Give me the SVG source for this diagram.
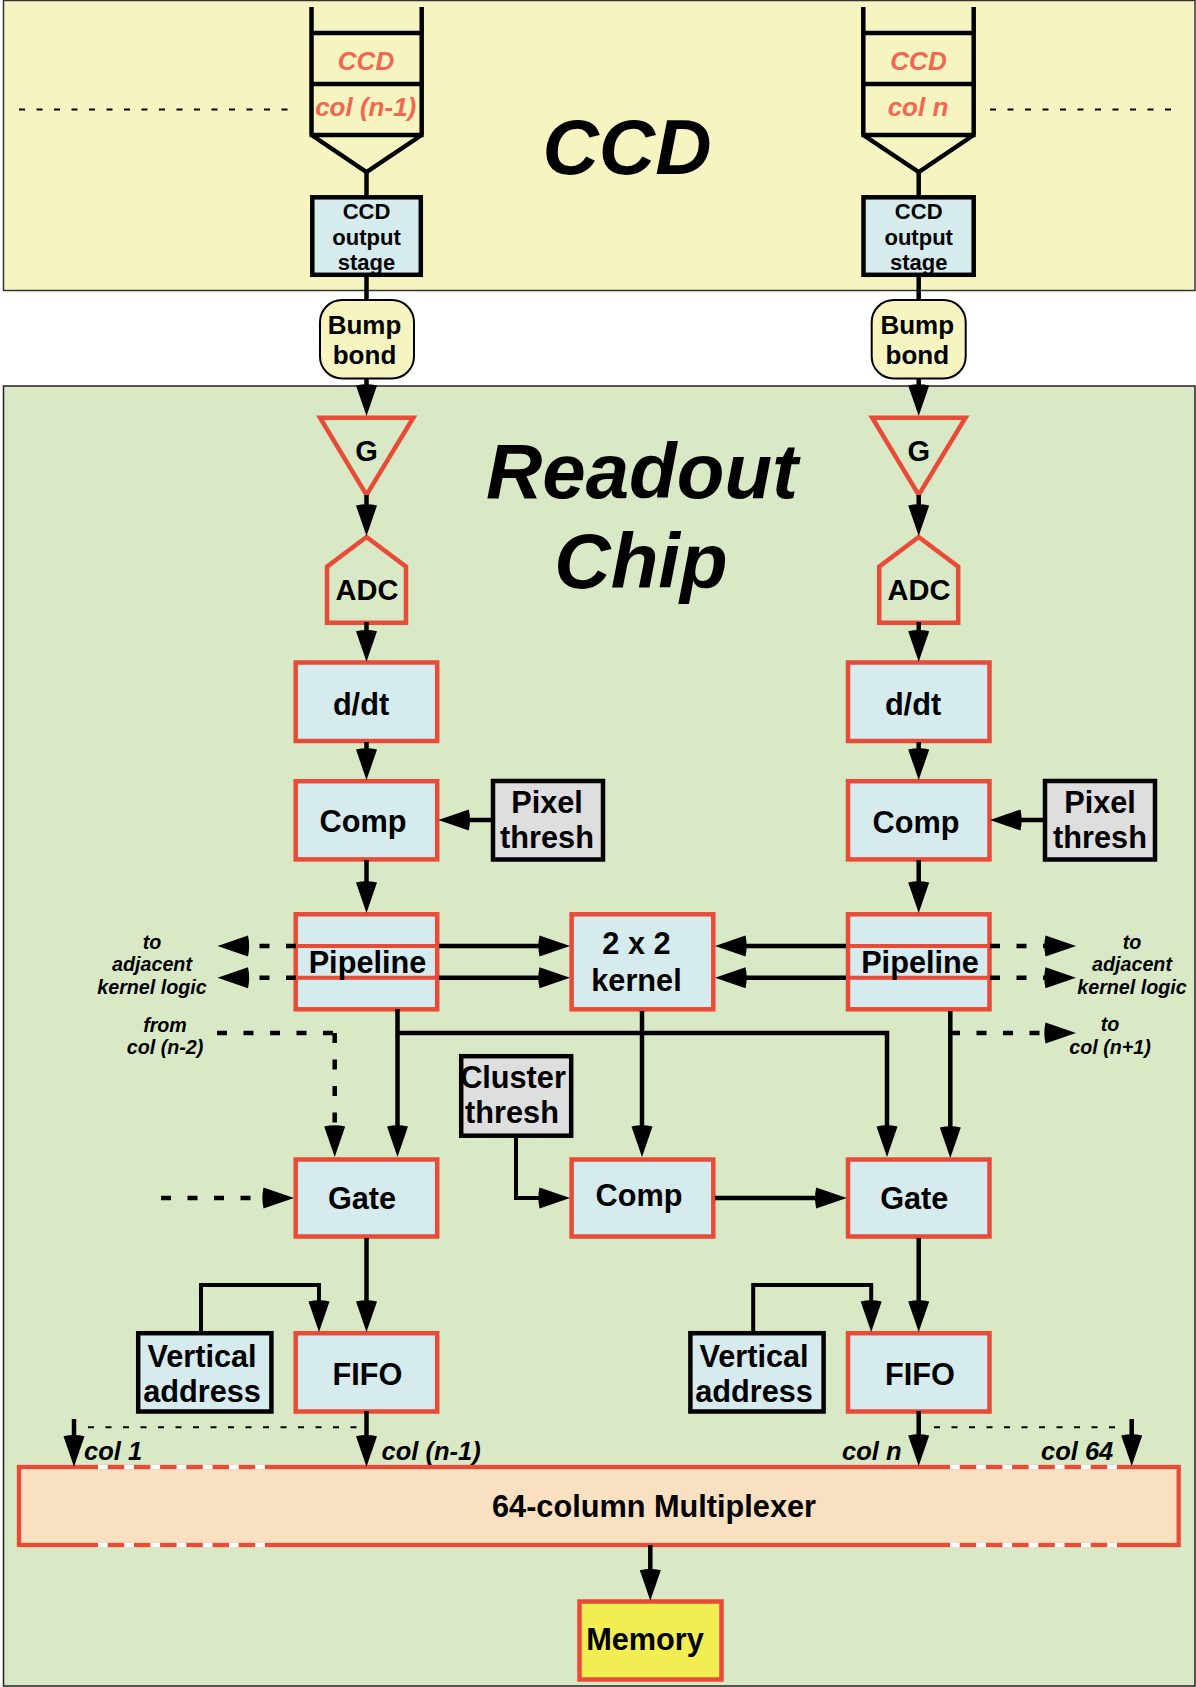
<svg xmlns="http://www.w3.org/2000/svg" width="1196" height="1687" viewBox="0 0 1196 1687">
<style>
text{font-family:"Liberation Sans",Arial,sans-serif;font-weight:700;fill:#000;text-anchor:middle}
.f30{font-size:30.7px}.f29{font-size:29px}.f26{font-size:26px}.f22{font-size:22px}
.title{font-size:78px;font-style:italic}
.lab{font-size:19.7px;font-style:italic}
.col{font-size:25.5px;font-style:italic;text-anchor:start}
.ccdt{font-size:26px;font-style:italic;fill:#f2674f}
.red{fill:#d6ebee;stroke:#e84b37;stroke-width:4.5}
.blk{fill:#d6ebee;stroke:#000;stroke-width:4.5}
.gry{fill:#dedede;stroke:#000;stroke-width:4.5}
.shp{fill:none;stroke:#e84b37;stroke-width:4.5}
.rl{stroke:#e84b37;stroke-width:4;fill:none}
.wd{stroke:#fff;stroke-width:4.3;fill:none;stroke-dasharray:9.7 16.5}
.pipe{fill:none;stroke:#000;stroke-width:4.5}
.bump{fill:#f6f4c0;stroke:#000;stroke-width:2}
.c{fill:none;stroke:#000;stroke-width:4.5;marker-end:url(#a)}
.n{fill:none;stroke:#000;stroke-width:4.5}
.d{fill:none;stroke:#000;stroke-width:4.5;stroke-dasharray:10 16.5}
.dm{marker-end:url(#a)}
.t{fill:none;stroke:#000;stroke-width:2;stroke-dasharray:6 11.5}
</style>
<defs>
<marker id="a" markerUnits="userSpaceOnUse" markerWidth="34" markerHeight="22" viewBox="-1 0 34 22" refX="7" refY="11" orient="auto" overflow="visible">
<path d="M32 11 L1.5 .5 Q-.8 11 1.5 21.5 Z" fill="#000"/>
</marker>
</defs>
<g id="panels">
<rect id="ccd-panel" x="3.5" y="0.5" width="1191.5" height="290" fill="#f6f4c0" stroke="#333" stroke-width="1.5"/>
<rect id="readout-panel" x="3.5" y="386" width="1191.5" height="1300" fill="#d9e9c5" stroke="#222" stroke-width="1.5"/>
<text class="title" x="627" y="174">CCD</text>
<text class="title" x="642" y="498">Readout</text>
<text class="title" x="641" y="588">Chip</text>
</g>
<g id="ccd-col-left">
<path class="pipe" d="M311.5 7V135M421.7 7V135M311.5 33H421.7M311.5 84H421.7M309.5 135H423.7M311.5 135L366.5 172L421.7 135"/>
<text class="ccdt" x="366" y="70">CCD</text><text class="ccdt" x="365.7" y="116">col (n-1)</text>
</g>
<g id="ccd-col-right">
<path class="pipe" d="M863.3 7V135M973.7 7V135M863.3 33H973.7M863.3 84H973.7M861.3 135H975.7M863.3 135L918.7 172L973.7 135"/>
<text class="ccdt" x="918.5" y="70">CCD</text><text class="ccdt" x="918" y="116">col n</text>
</g>
<g id="output-left"><rect class="blk" x="312.3" y="197.3" width="108.5" height="77.5"/>
<text class="f22" x="366.5" y="218.5">CCD</text><text class="f22" x="366.5" y="244.5">output</text><text class="f22" x="366.5" y="269.5">stage</text></g>
<g id="output-right"><rect class="blk" x="863.5" y="197.3" width="110.2" height="77.5"/>
<text class="f22" x="918.7" y="218.5">CCD</text><text class="f22" x="918.7" y="244.5">output</text><text class="f22" x="918.7" y="269.5">stage</text></g>
<g id="bump-left"><rect class="bump" x="320" y="300" width="94" height="78.5" rx="22"/>
<text class="f26" x="364.5" y="334">Bump</text><text class="f26" x="364.5" y="364">bond</text></g>
<g id="bump-right"><rect class="bump" x="871.7" y="300" width="94" height="78.5" rx="22"/>
<text class="f26" x="917.3" y="334">Bump</text><text class="f26" x="917.3" y="364">bond</text></g>
<g id="gain-left"><path class="shp" d="M320 417.7H413.3L366.5 495Z"/><text class="f29" x="366.5" y="461">G</text></g>
<g id="gain-right"><path class="shp" d="M872.2 417.7H965.5L918.7 495Z"/><text class="f29" x="918.7" y="461">G</text></g>
<g id="adc-left"><path class="shp" d="M366.5 537L327 566.7V622.7H406V566.7Z"/><text class="f29" x="367" y="600">ADC</text></g>
<g id="adc-right"><path class="shp" d="M918.7 537L879.2 566.7V622.7H958.2V566.7Z"/><text class="f29" x="919" y="600">ADC</text></g>
<g id="ddt-left"><rect class="red" x="295.7" y="662.5" width="141.5" height="78.5"/><text class="f30" x="361" y="715">d/dt</text></g>
<g id="ddt-right"><rect class="red" x="848" y="662.5" width="141.5" height="78.5"/><text class="f30" x="913" y="715">d/dt</text></g>
<g id="comp-left"><rect class="red" x="295.7" y="781.2" width="141.5" height="78.2"/><text class="f30" x="363" y="832">Comp</text></g>
<g id="comp-right"><rect class="red" x="848" y="781.2" width="141.5" height="78.2"/><text class="f30" x="916" y="832.5">Comp</text></g>
<g id="pixel-left"><rect class="gry" x="493" y="781" width="110" height="78.5"/><text class="f30" x="547" y="813">Pixel</text><text class="f30" x="547" y="847.5">thresh</text></g>
<g id="pixel-right"><rect class="gry" x="1045" y="781" width="110" height="78.5"/><text class="f30" x="1100" y="813">Pixel</text><text class="f30" x="1100" y="847.5">thresh</text></g>
<g id="pipeline-left"><rect class="red" x="295.7" y="914.3" width="141.5" height="95"/><path class="rl" d="M296 946H437M296 977.7H437"/><text class="f30" x="367.5" y="973">Pipeline</text></g>
<g id="pipeline-right"><rect class="red" x="848" y="914.3" width="141.5" height="95"/><path class="rl" d="M848 946H989M848 977.7H989"/><text class="f30" x="920" y="973">Pipeline</text></g>
<g id="kernel"><rect class="red" x="571.6" y="914.3" width="141.7" height="95"/><text class="f30" x="636.5" y="954">2 x 2</text><text class="f30" x="636.5" y="991">kernel</text></g>
<g id="cluster"><rect class="gry" x="461.2" y="1056.2" width="110" height="79.5"/><text class="f30" x="513" y="1088">Cluster</text><text class="f30" x="512" y="1123">thresh</text></g>
<g id="gate-left"><rect class="red" x="295.7" y="1159.5" width="141.5" height="77"/><text class="f30" x="362" y="1209">Gate</text></g>
<g id="comp-mid"><rect class="red" x="571.6" y="1159.5" width="141.7" height="77"/><text class="f30" x="639" y="1206">Comp</text></g>
<g id="gate-right"><rect class="red" x="848" y="1159.5" width="141.5" height="77"/><text class="f30" x="914.3" y="1209">Gate</text></g>
<g id="vaddr-left"><rect class="blk" x="138.2" y="1333.2" width="133.2" height="78.3"/><text class="f30" x="202" y="1367">Vertical</text><text class="f30" x="202" y="1402">address</text></g>
<g id="vaddr-right"><rect class="blk" x="690.4" y="1333.2" width="133.2" height="78.3"/><text class="f30" x="754" y="1367">Vertical</text><text class="f30" x="754" y="1402">address</text></g>
<g id="fifo-left"><rect class="red" x="295.7" y="1333.2" width="141.5" height="78.3"/><text class="f30" x="367.4" y="1384.5">FIFO</text></g>
<g id="fifo-right"><rect class="red" x="848" y="1333.2" width="141.5" height="78.3"/><text class="f30" x="920" y="1384.5">FIFO</text></g>
<g id="mux"><rect x="19" y="1467" width="1159.7" height="78" fill="#f8e0c0" stroke="#e84b37" stroke-width="4.3"/>
<path class="wd" d="M98 1467H266M98 1545H266M950 1467H1118M950 1545H1118"/>
<text class="f30" x="654" y="1516.7">64-column Multiplexer</text></g>
<g id="memory"><rect x="579.5" y="1601.5" width="142" height="78" fill="#f2ee52" stroke="#e84b37" stroke-width="4.5"/><text class="f30" x="645" y="1649.5">Memory</text></g>
<g id="labels">
<text class="lab" x="152" y="949">to</text><text class="lab" x="152" y="971">adjacent</text><text class="lab" x="152" y="994">kernel logic</text>
<text class="lab" x="165" y="1032">from</text><text class="lab" x="165" y="1054">col (n-2)</text>
<text class="lab" x="1132" y="949">to</text><text class="lab" x="1132" y="971">adjacent</text><text class="lab" x="1132" y="994">kernel logic</text>
<text class="lab" x="1110" y="1031">to</text><text class="lab" x="1110" y="1054">col (n+1)</text>
<text class="col" x="84" y="1460">col 1</text><text class="col" x="381.5" y="1460">col (n-1)</text><text class="col" x="842" y="1460">col n</text><text class="col" x="1041" y="1460">col 64</text>
</g>
<g id="connectors">
<path class="n" d="M366.5 172V197M366.5 275V300M918.7 172V197M918.7 275V300"/>
<path class="c" d="M366.5 379V391"/><path class="c" d="M918.7 379V391"/>
<path class="c" d="M366.5 495V511"/><path class="c" d="M918.7 495V511"/>
<path class="c" d="M366.5 622V636.7"/><path class="c" d="M918.7 622V636.7"/>
<path class="c" d="M366.5 742V755"/><path class="c" d="M918.7 742V755"/>
<path class="c" d="M366.5 860V888"/><path class="c" d="M918.7 860V888"/>
<path class="c" d="M491 820H463.3"/><path class="c" d="M1043 820H1015"/>
<path class="c" d="M439 946H545"/><path class="c" d="M439 977.7H545"/>
<path class="c" d="M846 946H740"/><path class="c" d="M846 977.7H740"/>
<path class="d dm" d="M296 946H242.5"/><path class="d dm" d="M296 977.7H242.5"/>
<path class="d dm" d="M990 946H1051"/><path class="d dm" d="M990 977.7H1051"/>
<path class="d dm" d="M950 1033H1051"/>
<path class="c" d="M397.5 1009V1132"/>
<path class="c" d="M397.5 1033H887V1132"/>
<path class="c" d="M950.3 1011V1133"/>
<path class="c" d="M642 1011V1132"/>
<path class="d" d="M217 1033H335"/>
<path class="d dm" d="M334.7 1033V1132"/>
<path class="d dm" d="M161 1198H269"/>
<path class="c" style="stroke-width:4" d="M516 1138V1198H545"/>
<path class="c" d="M715 1198H821.7"/>
<path class="c" d="M366.5 1238V1307"/><path class="c" d="M918.7 1238V1307"/>
<path class="c" style="stroke-width:4" d="M201 1331V1285H319V1307"/>
<path class="c" style="stroke-width:4" d="M753.2 1331V1285H871.2V1307"/>
<path class="c" d="M366.5 1411V1441.7"/><path class="c" d="M918.7 1411V1441"/>
<path class="c" d="M74 1419V1441.7"/><path class="c" d="M1131.7 1419V1441"/>
<path class="t" d="M88 1427.3H358"/><path class="t" d="M934 1427.3H1116"/>
<path class="c" d="M650.3 1545V1575.7"/>
<path class="t" d="M19 109.5H288"/><path class="t" d="M990 109.5H1172"/>
</g>
</svg>
